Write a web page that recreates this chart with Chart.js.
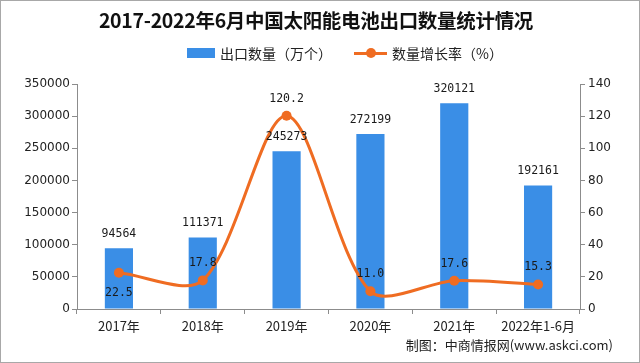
<!DOCTYPE html>
<html>
<head>
<meta charset="utf-8">
<script src="https://cdn.jsdelivr.net/npm/chart.js@4/dist/chart.umd.min.js"></script>
<style>
  html, body { margin: 0; padding: 0; background: #fff; }
  #wrap { position: relative; width: 640px; height: 363px; overflow: hidden; }
  #wrap canvas { position: absolute; left: 0; top: 0; }
  .frame { position: absolute; left: 0; top: 0; width: 640px; height: 363px; box-sizing: border-box;
           border: 1px solid #a8a8a8; pointer-events: none; }
  .title { position: absolute; left: 0; width: 632px; top: 5px; text-align: center;
           font: bold 19.5px "Noto Sans CJK SC", sans-serif; color: #111; letter-spacing: -0.3px; }
  .legend { position: absolute; top: 43px; left: 187px; display: flex; align-items: center;
            font: 14px "Noto Sans CJK SC", sans-serif; color: #222; }
  .legend .box { width: 28px; height: 10px; background: #3a8ee6; margin-right: 5px; }
  .legend .ln { position: relative; width: 33px; height: 3px; background: #ef6c22; margin: 0 5px 0 22px; }
  .legend .ln::after { content: ""; position: absolute; left: 12px; top: -3.5px; width: 10px; height: 10px;
                       border-radius: 50%; background: #ef6c22; }
  .source { position: absolute; right: 27px; top: 335px; font: 13px "Noto Sans CJK SC", sans-serif; color: #222; }
</style>
</head>
<body>
<div id="wrap">
  <canvas id="chart" width="640" height="363"></canvas>
  <div class="title">2017-2022年6月中国太阳能电池出口数量统计情况</div>
  <div class="legend">
    <span class="box"></span><span>出口数量（万个）</span>
    <span class="ln"></span><span>数量增长率（%）</span>
  </div>
  <div class="source">制图：中商情报网(www.askci.com)</div>
  <div class="frame"></div>
</div>
<script>
// 데이터
const years = ['2017年', '2018年', '2019年', '2020年', '2021年', '2022年1-6月'];
const exportQty = [94564, 111371, 245273, 272199, 320121, 192161];   // 万个
const growthRate = [22.5, 17.8, 120.2, 11.0, 17.6, 15.3];            // %
const leftTicks = [0, 50000, 100000, 150000, 200000, 250000, 300000, 350000];
const rightTicks = [0, 20, 40, 60, 80, 100, 120, 140];

const BLUE = '#3a8ee6';
const ORANGE = '#ef6c22';
const AXIS = '#8c8c8c';

// 값 라벨 — 막대 위 / 선 점 위(첫 점만 아래)
const valueLabels = {
  id: 'valueLabels',
  afterDatasetsDraw(chart) {
    const ctx = chart.ctx;
    ctx.save();
    ctx.font = '11.5px "DejaVu Sans Mono", monospace';
    ctx.fillStyle = '#1a1a1a';
    ctx.textAlign = 'center';
    ctx.textBaseline = 'middle';
    chart.getDatasetMeta(0).data.forEach((bar, i) => {
      ctx.fillText(String(exportQty[i]), bar.x, bar.y - 14);
    });
    chart.getDatasetMeta(1).data.forEach((pt, i) => {
      const dy = i === 0 ? 20 : -17;
      ctx.fillText(growthRate[i].toFixed(1), pt.x, pt.y + dy);
    });
    ctx.restore();
  }
};

const tickFont = { family: '"DejaVu Sans", sans-serif', size: 12 };

new Chart(document.getElementById('chart'), {
  data: {
    labels: years,
    datasets: [
      {
        type: 'bar',
        label: '出口数量（万个）',
        data: exportQty,
        backgroundColor: BLUE,
        yAxisID: 'y',
        categoryPercentage: 0.8,
        barPercentage: 0.42,
        order: 1
      },
      {
        type: 'line',
        label: '数量增长率（%）',
        data: growthRate,
        borderColor: ORANGE,
        backgroundColor: ORANGE,
        borderWidth: 3,
        pointRadius: 5,
        pointBorderWidth: 0,
        tension: 0.3,
        yAxisID: 'y1',
        order: 0
      }
    ]
  },
  options: {
    responsive: false,
    animation: false,
    layout: { padding: { left: 5, right: 5, top: 84, bottom: 24 } },
    plugins: { legend: { display: false }, tooltip: { enabled: false } },
    scales: {
      x: {
        offset: true,
        grid: { offset: true, drawOnChartArea: false, drawTicks: true, tickLength: 5, color: AXIS },
        border: { color: AXIS },
        ticks: { color: '#222', font: { family: '"Noto Sans CJK SC", sans-serif', size: 13 }, padding: 4, maxRotation: 0, autoSkip: false },
        afterFit: (s) => { s.height = 30; }
      },
      y: {
        position: 'left',
        min: 0, max: 350000,
        afterBuildTicks: (s) => { s.ticks = leftTicks.map(v => ({ value: v })); },
        grid: { drawOnChartArea: false, tickLength: 5, color: AXIS },
        border: { color: AXIS },
        ticks: { color: '#222', font: tickFont, padding: 2, callback: (v) => String(v) },
        afterFit: (s) => { s.width = 72; }
      },
      y1: {
        position: 'right',
        min: 0, max: 140,
        afterBuildTicks: (s) => { s.ticks = rightTicks.map(v => ({ value: v })); },
        grid: { drawOnChartArea: false, tickLength: 5, color: AXIS },
        border: { color: AXIS },
        ticks: { color: '#222', font: tickFont, padding: 3, callback: (v) => String(v) },
        afterFit: (s) => { s.width = 55; }
      }
    }
  },
  plugins: [valueLabels]
});
</script>
</body>
</html>
